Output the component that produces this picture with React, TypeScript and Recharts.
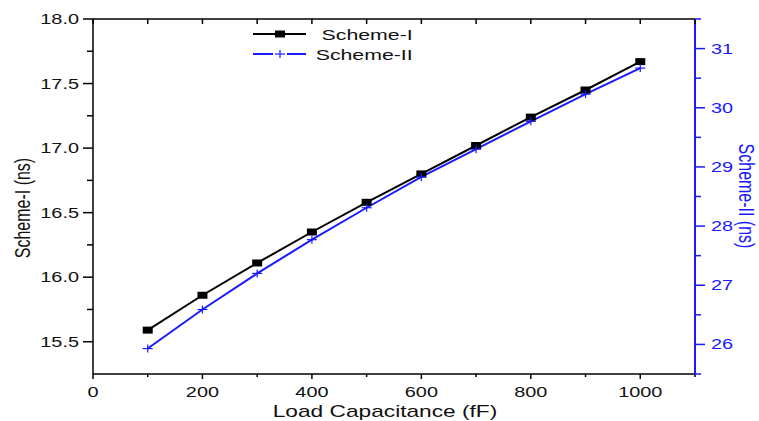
import { LineChart, Line, XAxis, YAxis, Legend } from 'recharts';

// values
const loads = [100, 200, 300, 400, 500, 600, 700, 800, 900, 1000];
const schemeOne = [15.59, 15.86, 16.11, 16.35, 16.58, 16.8, 17.02, 17.24, 17.45, 17.67];
const schemeTwo = [25.93, 26.59, 27.2, 27.77, 28.31, 28.83, 29.3, 29.77, 30.23, 30.67];

const xTicks = [0, 100, 200, 300, 400, 500, 600, 700, 800, 900, 1000, 1100];
const leftTicks = [15.5, 15.75, 16, 16.25, 16.5, 16.75, 17, 17.25, 17.5, 17.75, 18];
const rightTicks = [25.5, 26, 26.5, 27, 27.5, 28, 28.5, 29, 29.5, 30, 30.5, 31, 31.5];

const data = loads.map((load, i) => ({ load, s1: schemeOne[i], s2: schemeTwo[i] }));

const BLUE = '#1a1aff';
const FONT = '"Liberation Sans", Arial, sans-serif';
const SX = 1.42; // the reference text is stretched sideways
const PLOT_TOP = 19; // chart top margin = top edge of the frame

function SText({ x, y, anchor = 'start', size = 14, fill = '#111', rotate = 0, children }: any) {
    return (
        <g transform={`translate(${x},${y}) scale(${SX},1)`}>
            <text
                transform={rotate ? `rotate(${rotate})` : undefined}
                textAnchor={anchor}
                dominantBaseline={rotate ? 'central' : undefined}
                fontFamily={FONT}
                fontSize={size}
                fill={fill}
            >
                {children}
            </text>
        </g>
    );
}

// bottom ticks, plus the matching inward ticks on the top frame
const BottomTick = ({ x, y, payload }: any) => {
    const major = payload.value % 200 === 0;
    return (
        <g>
            <line x1={x} x2={x} y1={y} y2={y + (major ? 5 : 3)} stroke="#000" strokeWidth={1.5} />
            <line x1={x} x2={x} y1={PLOT_TOP} y2={PLOT_TOP + 5} stroke="#000" strokeWidth={1.5} />
            {major && payload.value <= 1000 && (
                <SText x={x} y={y + 22.7} anchor="middle">{payload.value}</SText>
            )}
        </g>
    );
};

const LeftTick = ({ x, y, payload }: any) => {
    const major = payload.value % 0.5 === 0;
    return (
        <g>
            <line x1={x} x2={x - (major ? 10 : 6)} y1={y} y2={y} stroke="#000" strokeWidth={1.5} />
            {major && (
                <SText x={x - 14} y={y + 5} anchor="end">{payload.value.toFixed(1)}</SText>
            )}
        </g>
    );
};

const RightTick = ({ x, y, payload }: any) => {
    const major = Number.isInteger(payload.value);
    return (
        <g>
            <line x1={x} x2={x + (major ? 10 : 6)} y1={y} y2={y} stroke={BLUE} strokeWidth={1.5} />
            {major && (
                <SText x={x + 16} y={y + 5} fill={BLUE}>{payload.value}</SText>
            )}
        </g>
    );
};

const SquareDot = (p: any) => (
    <rect key={`sq-${p.index}`} x={p.cx - 5} y={p.cy - 3.5} width={10} height={7} fill="#000" />
);

const PlusDot = (p: any) => (
    <g key={`pl-${p.index}`}>
        <line x1={p.cx - 5} x2={p.cx + 5} y1={p.cy} y2={p.cy} stroke={BLUE} strokeWidth={1.2} />
        <line x1={p.cx} x2={p.cx} y1={p.cy - 4} y2={p.cy + 4} stroke={BLUE} strokeWidth={1.2} />
    </g>
);

const renderLegend = ({ payload }: any) => (
    <svg width={200} height={40}>
        {(payload || []).map((entry: any, i: number) => {
            const cy = 8 + i * 20;
            const color = entry.color;
            return (
                <g key={entry.value}>
                    <line x1={3} x2={56} y1={cy} y2={cy} stroke={color} strokeWidth={2} />
                    {i === 0 ? (
                        <rect x={25} y={cy - 3.5} width={10} height={7} fill={color} />
                    ) : (
                        <g>
                            <rect x={23} y={cy - 4} width={14} height={8} fill="#fff" />
                            <line x1={25} x2={35} y1={cy} y2={cy} stroke={color} strokeWidth={1.2} />
                            <line x1={30} x2={30} y1={cy - 4} y2={cy + 4} stroke={color} strokeWidth={1.2} />
                        </g>
                    )}
                    <SText x={162.7} y={cy + 5.5} anchor="end" size={15}>{entry.value}</SText>
                </g>
            );
        })}
    </svg>
);

export default function App() {
    return (
        <div style={{ position: 'absolute', left: 0, top: 0, width: 759, height: 421, background: '#fff' }}>
            <LineChart width={759} height={421} data={data} margin={{ top: PLOT_TOP, right: 0, bottom: 0, left: 0 }}>
                <XAxis
                    dataKey="load"
                    type="number"
                    domain={[0, 1100]}
                    ticks={xTicks}
                    interval={0}
                    height={47}
                    tickSize={0}
                    tickMargin={0}
                    tickLine={false}
                    tick={<BottomTick />}
                    axisLine={{ stroke: '#000', strokeWidth: 1.5 }}
                    label={{
                        content: ({ viewBox }: any) => (
                            <g>
                                <line
                                    x1={viewBox.x}
                                    x2={viewBox.x + viewBox.width}
                                    y1={PLOT_TOP}
                                    y2={PLOT_TOP}
                                    stroke="#000"
                                    strokeWidth={1.5}
                                />
                                <SText x={viewBox.x + viewBox.width / 2 - 9} y={viewBox.y + 42.7} anchor="middle" size={16}>
                                    Load Capacitance (fF)
                                </SText>
                            </g>
                        ),
                    }}
                />
                <YAxis
                    yAxisId="l"
                    type="number"
                    domain={[15.25, 18]}
                    ticks={leftTicks}
                    interval={0}
                    width={93}
                    tickSize={0}
                    tickMargin={0}
                    tickLine={false}
                    tick={<LeftTick />}
                    axisLine={{ stroke: '#000', strokeWidth: 1.5 }}
                    label={{
                        content: () => (
                            <SText x={22} y={208} anchor="middle" size={16} rotate={-90}>
                                Scheme-I (ns)
                            </SText>
                        ),
                    }}
                />
                <YAxis
                    yAxisId="r"
                    orientation="right"
                    type="number"
                    domain={[25.5, 31.5]}
                    ticks={rightTicks}
                    interval={0}
                    width={64}
                    tickSize={0}
                    tickMargin={0}
                    tickLine={false}
                    tick={<RightTick />}
                    axisLine={{ stroke: BLUE, strokeWidth: 2 }}
                    label={{
                        content: () => (
                            <SText x={747} y={196} anchor="middle" size={16} fill={BLUE} rotate={90}>
                                Scheme-II (ns)
                            </SText>
                        ),
                    }}
                />
                <Legend
                    layout="vertical"
                    align="center"
                    verticalAlign="middle"
                    wrapperStyle={{ left: 250, top: 26, width: 200, height: 40 }}
                    content={renderLegend}
                />
                <Line
                    yAxisId="l"
                    dataKey="s1"
                    name="Scheme-I"
                    stroke="#000"
                    strokeWidth={2}
                    dot={SquareDot}
                    isAnimationActive={false}
                />
                <Line
                    yAxisId="r"
                    dataKey="s2"
                    name="Scheme-II"
                    stroke={BLUE}
                    strokeWidth={2}
                    dot={PlusDot}
                    isAnimationActive={false}
                />
            </LineChart>
        </div>
    );
}
